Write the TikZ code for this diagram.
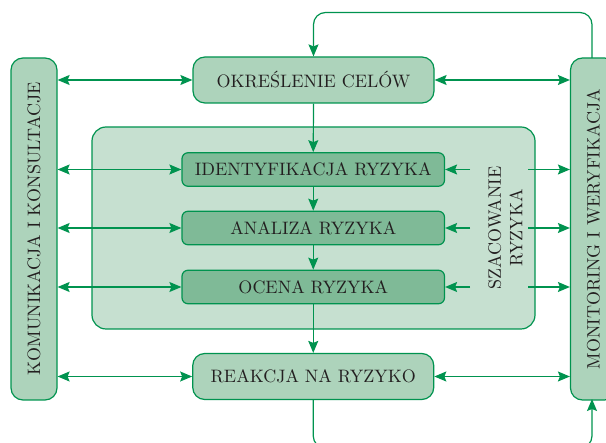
\documentclass[tikz,border=0pt]{standalone}
\usepackage{fontspec}
\setmainfont{lmroman10-regular.otf}
\usetikzlibrary{arrows.meta}
\definecolor{gline}{HTML}{00934F}
\definecolor{glight}{HTML}{ADD3BB}
\definecolor{gbig}{HTML}{C6E0D0}
\definecolor{gdark}{HTML}{7FBA97}
\definecolor{txt}{HTML}{231F20}
\tikzset{
  tip/.tip={Stealth[length=12pt,width=10pt,inset=2pt]},
  arr/.style={draw=gline, line width=1.2pt, -tip},
  dbl/.style={draw=gline, line width=1.2pt, tip-tip},
  box/.style={draw=gline, line width=1.2pt, rounded corners=12pt, fill=glight,
    text=txt, font=\fontsize{18}{21.5}\selectfont, inner sep=0pt},
  sidebox/.style={box, rotate=90, minimum width=342pt, minimum height=46pt},
  mainbox/.style={box, minimum width=241pt, minimum height=46pt},
  innerbox/.style={box, rounded corners=6pt, fill=gdark, minimum width=262.5pt, minimum height=33.5pt},
  bigbox/.style={draw=gline, line width=1.2pt, rounded corners=14pt, fill=gbig,
    minimum width=443pt, minimum height=202pt, inner sep=0pt},
  lbl/.style={text=txt, font=\fontsize{18}{21.5}\selectfont, align=center, inner sep=0pt}
}
\begin{document}
\begin{tikzpicture}[x=1pt, y=-1pt]
\useasboundingbox (0,0) rectangle (606,443);
\clip (0,0) rectangle (606,443);
% nodes
\node[bigbox] (big) at (313.5,228) {};
\node[sidebox] (kom) at (34,229) {KOMUNIKACJA I KONSULTACJE};
\node[sidebox] (mon) at (593.5,229) {MONITORING I WERYFIKACJA};
\node[mainbox] (cel) at (313.5,80) {OKREŚLENIE CELÓW};
\node[innerbox] (id) at (313.25,169.5) {IDENTYFIKACJA RYZYKA};
\node[innerbox] (an) at (313.25,228) {ANALIZA RYZYKA};
\node[innerbox] (oc) at (313.25,287) {OCENA RYZYKA};
\node[mainbox] (rea) at (313.25,376.5) {REAKCJA NA RYZYKO};
\node[lbl, rotate=90] (sz) at (505.5,228) {SZACOWANIE\\RYZYKA};
% free ends on the right
\coordinate (id1) at (470,169.5);
\coordinate (id2) at (528,169.5);
\coordinate (an1) at (470,228);
\coordinate (an2) at (528,228);
\coordinate (oc1) at (470,287);
\coordinate (oc2) at (528,287);
% vertical flow
\draw[arr] (cel.south) -- (id.north);
\draw[arr] (id.south) -- (an.north);
\draw[arr] (an.south) -- (oc.north);
\draw[arr] (oc.south) -- (rea.north);
% left double arrows
\draw[dbl] (kom.south |- cel.west) -- (cel.west);
\draw[dbl] (kom.south |- id.west) -- (id.west);
\draw[dbl] (kom.south |- an.west) -- (an.west);
\draw[dbl] (kom.south |- oc.west) -- (oc.west);
\draw[dbl] (kom.south |- rea.west) -- (rea.west);
% right double arrows
\draw[dbl] (cel.east) -- (mon.north |- cel.east);
\draw[dbl] (rea.east) -- (mon.north |- rea.east);
% right arrows around the label
\draw[arr] (id1) -- (id.east);
\draw[arr] (an1) -- (an.east);
\draw[arr] (oc1) -- (oc.east);
\draw[arr] (id2) -- (mon.north |- id2);
\draw[arr] (an2) -- (mon.north |- an2);
\draw[arr] (oc2) -- (mon.north |- oc2);
% loops
\draw[arr, rounded corners=12pt] (592,58) -- (592,12.5) -- (cel.north |- 0,12.5) -- (cel.north);
\draw[arr, rounded corners=12pt] (rea.south) -- (rea.south |- 0,448) -- (592,448) -- (592,399);
\end{tikzpicture}
\end{document}
